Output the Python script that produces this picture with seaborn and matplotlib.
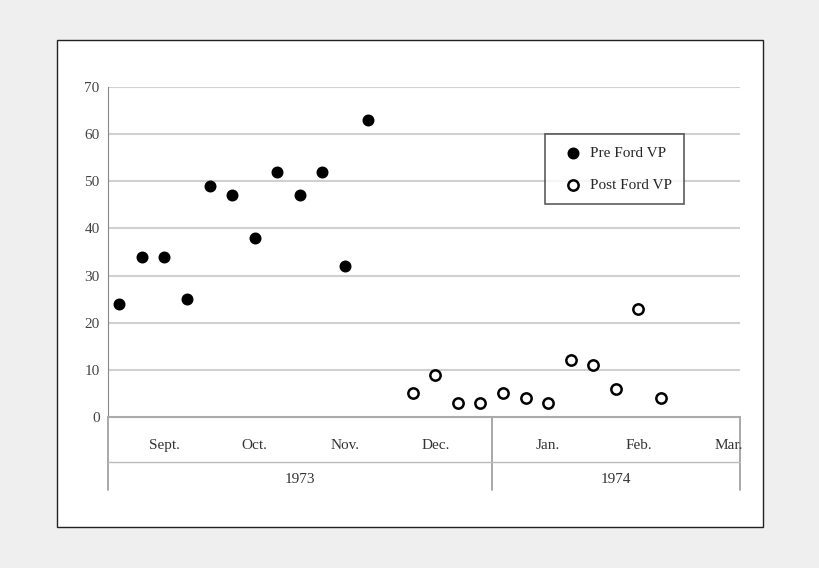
import matplotlib
matplotlib.use("Agg")
import matplotlib.pyplot as plt
import seaborn as sns
import pandas as pd
from matplotlib.patches import Rectangle

sns.set_style('white')
plt.rcParams['font.family'] = ['Liberation Serif', 'DejaVu Serif']

# values, one point per slot
pre_values = [24, 34, 34, 25, 49, 47, 38, 52, 47, 52, 32, 63]
post_values = [5, 9, 3, 3, 5, 4, 3, 12, 11, 6, 23, 4]
pre_slots = list(range(0, 12))
post_slots = list(range(13, 25))
months = ['Sept.', 'Oct.', 'Nov.', 'Dec.', 'Jan.', 'Feb.', 'Mar.']
month_slots = [2, 6, 10, 14, 19, 23, 27]
years = ['1973', '1974']
year_spans = [(0, 17), (17, 28)]

df = pd.DataFrame({
    'slot': [s + 0.5 for s in pre_slots + post_slots],
    'value': pre_values + post_values,
    'group': ['Pre Ford VP'] * len(pre_values) + ['Post Ford VP'] * len(post_values),
})

fig = plt.figure(figsize=(8.2, 5.68), dpi=100, facecolor='#efefef')
fig.patches.append(Rectangle((0.0695, 0.0722), 0.861, 0.857, transform=fig.transFigure,
                             facecolor='white', edgecolor='#222222', linewidth=1.0, zorder=-10))
ax = fig.add_axes([0.1317, 0.2658, 0.7707, 0.581])
ax.set_facecolor('white')

for y in range(10, 80, 10):
    ax.axhline(y, color='#d0d0d0', linewidth=1.5, zorder=0)

sns.scatterplot(data=df[df.group == 'Pre Ford VP'], x='slot', y='value', ax=ax,
                color='black', edgecolor='black', s=55, linewidth=1.2,
                label='Pre Ford VP', zorder=3)
sns.scatterplot(data=df[df.group == 'Post Ford VP'], x='slot', y='value', ax=ax,
                color='white', edgecolor='black', s=55, linewidth=1.8,
                label='Post Ford VP', zorder=3)

ax.set_xlim(0, 28)
ax.set_ylim(0, 70)
ax.set_yticks(range(0, 80, 10))
ax.tick_params(axis='y', labelsize=11, colors='#444444', length=0, pad=6)
ax.set_xticks([])
ax.set_xlabel('')
ax.set_ylabel('')
for side in ['top', 'right']:
    ax.spines[side].set_visible(False)
ax.spines['left'].set_color('#888888')
ax.spines['bottom'].set_color('#aaaaaa')
ax.spines['bottom'].set_linewidth(1.5)

tr = ax.get_xaxis_transform()
for s, m in zip(month_slots, months):
    ax.text(s + 0.5, -0.085, m, transform=tr, ha='center', va='center', fontsize=11, color='#333333')
for (a, b), yr in zip(year_spans, years):
    ax.text((a + b) / 2, -0.19, yr, transform=tr, ha='center', va='center', fontsize=11, color='#333333')
for x in [0, 17, 28]:
    ax.plot([x, x], [0, -0.22], transform=tr, color='#999999', linewidth=1.2, clip_on=False)
ax.plot([0, 28], [-0.135, -0.135], transform=tr, color='#bbbbbb', linewidth=1.0, clip_on=False)

leg = ax.legend(loc='upper left', bbox_to_anchor=(0.68, 0.88), frameon=True, fancybox=False,
                fontsize=11, labelspacing=1.2, handletextpad=0.1, borderpad=0.8, markerscale=1.0)
leg.get_frame().set_edgecolor('#333333')
leg.get_frame().set_linewidth(1.2)

fig.savefig('out.png', dpi=100, facecolor=fig.get_facecolor())
